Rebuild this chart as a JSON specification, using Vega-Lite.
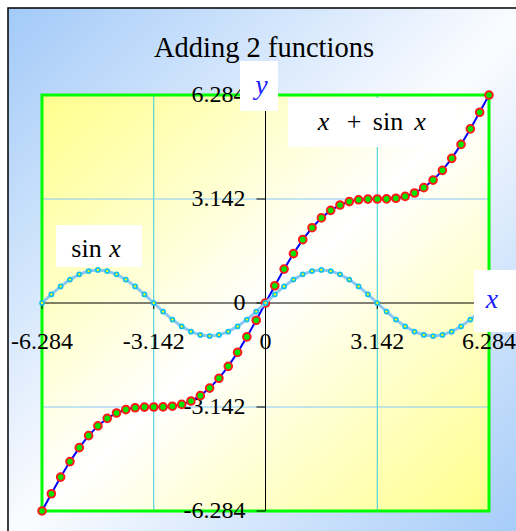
{
  "$schema": "https://vega.github.io/schema/vega-lite/v6.json",
  "width": 447,
  "height": 416,
  "autosize": {"type": "none"},
  "padding": {"left": 42, "top": 95, "right": 27, "bottom": 20},
  "background": "#ffffff",
  "config": {"view": {"stroke": null}, "text": {"font": "Liberation Serif", "color": "#000000"}},
  "datasets": {
    "curve": [
      {"x": -6.2832, "sin": 0, "sum": -6.2832},
      {"x": -6.0214, "sin": 0.2588, "sum": -5.7626},
      {"x": -5.7596, "sin": 0.5, "sum": -5.2596},
      {"x": -5.4978, "sin": 0.7071, "sum": -4.7907},
      {"x": -5.236, "sin": 0.866, "sum": -4.37},
      {"x": -4.9742, "sin": 0.9659, "sum": -4.0083},
      {"x": -4.7124, "sin": 1, "sum": -3.7124},
      {"x": -4.4506, "sin": 0.9659, "sum": -3.4847},
      {"x": -4.1888, "sin": 0.866, "sum": -3.3228},
      {"x": -3.927, "sin": 0.7071, "sum": -3.2199},
      {"x": -3.6652, "sin": 0.5, "sum": -3.1652},
      {"x": -3.4034, "sin": 0.2588, "sum": -3.1446},
      {"x": -3.1416, "sin": 0, "sum": -3.1416},
      {"x": -2.8798, "sin": -0.2588, "sum": -3.1386},
      {"x": -2.618, "sin": -0.5, "sum": -3.118},
      {"x": -2.3562, "sin": -0.7071, "sum": -3.0633},
      {"x": -2.0944, "sin": -0.866, "sum": -2.9604},
      {"x": -1.8326, "sin": -0.9659, "sum": -2.7985},
      {"x": -1.5708, "sin": -1, "sum": -2.5708},
      {"x": -1.309, "sin": -0.9659, "sum": -2.2749},
      {"x": -1.0472, "sin": -0.866, "sum": -1.9132},
      {"x": -0.7854, "sin": -0.7071, "sum": -1.4925},
      {"x": -0.5236, "sin": -0.5, "sum": -1.0236},
      {"x": -0.2618, "sin": -0.2588, "sum": -0.5206},
      {"x": 0, "sin": 0, "sum": 0},
      {"x": 0.2618, "sin": 0.2588, "sum": 0.5206},
      {"x": 0.5236, "sin": 0.5, "sum": 1.0236},
      {"x": 0.7854, "sin": 0.7071, "sum": 1.4925},
      {"x": 1.0472, "sin": 0.866, "sum": 1.9132},
      {"x": 1.309, "sin": 0.9659, "sum": 2.2749},
      {"x": 1.5708, "sin": 1, "sum": 2.5708},
      {"x": 1.8326, "sin": 0.9659, "sum": 2.7985},
      {"x": 2.0944, "sin": 0.866, "sum": 2.9604},
      {"x": 2.3562, "sin": 0.7071, "sum": 3.0633},
      {"x": 2.618, "sin": 0.5, "sum": 3.118},
      {"x": 2.8798, "sin": 0.2588, "sum": 3.1386},
      {"x": 3.1416, "sin": 0, "sum": 3.1416},
      {"x": 3.4034, "sin": -0.2588, "sum": 3.1446},
      {"x": 3.6652, "sin": -0.5, "sum": 3.1652},
      {"x": 3.927, "sin": -0.7071, "sum": 3.2199},
      {"x": 4.1888, "sin": -0.866, "sum": 3.3228},
      {"x": 4.4506, "sin": -0.9659, "sum": 3.4847},
      {"x": 4.7124, "sin": -1, "sum": 3.7124},
      {"x": 4.9742, "sin": -0.9659, "sum": 4.0083},
      {"x": 5.236, "sin": -0.866, "sum": 4.37},
      {"x": 5.4978, "sin": -0.7071, "sum": 4.7907},
      {"x": 5.7596, "sin": -0.5, "sum": 5.2596},
      {"x": 6.0214, "sin": -0.2588, "sum": 5.7626},
      {"x": 6.2832, "sin": 0, "sum": 6.2832}
    ],
    "grid": [{"v": -3.142}, {"v": 3.142}],
    "ticks": [
      {"v": -6.284, "label": "-6.284"},
      {"v": -3.142, "label": "-3.142"},
      {"v": 0, "label": "0"},
      {"v": 3.142, "label": "3.142"},
      {"v": 6.284, "label": "6.284"}
    ],
    "one": [{}]
  },
  "layer": [
    {
      "data": {"name": "one"},
      "mark": {"type": "rect", "stroke": "#000000", "strokeWidth": 1.5,
        "fill": {"gradient": "linear", "x1": 0, "y1": 0, "x2": 1, "y2": 1,
          "stops": [{"offset": 0, "color": "#a2caf8"}, {"offset": 0.5, "color": "#fbfcff"}, {"offset": 1, "color": "#a2caf8"}]}},
      "encoding": {
        "x": {"datum": -7.24, "type": "quantitative", "scale": {"domain": [-6.284, 6.284], "nice": false, "zero": false}, "axis": null},
        "x2": {"datum": 7.4},
        "y": {"datum": 8.912, "type": "quantitative", "scale": {"domain": [-6.284, 6.284], "nice": false, "zero": false}, "axis": null},
        "y2": {"datum": -7.2}
      }
    },
    {
      "data": {"name": "one"},
      "mark": {"type": "rect",
        "fill": {"gradient": "linear", "x1": 0, "y1": 0, "x2": 1, "y2": 1,
          "stops": [{"offset": 0, "color": "#ffff8c"}, {"offset": 0.5, "color": "#ffffff"}, {"offset": 1, "color": "#ffff8c"}]}},
      "encoding": {
        "x": {"datum": -6.284, "type": "quantitative", "scale": {"domain": [-6.284, 6.284], "nice": false, "zero": false}, "axis": null},
        "x2": {"datum": 6.284},
        "y": {"datum": 6.284, "type": "quantitative", "scale": {"domain": [-6.284, 6.284], "nice": false, "zero": false}, "axis": null},
        "y2": {"datum": -6.284}
      }
    },
    {
      "data": {"name": "grid"},
      "mark": {"type": "rule", "color": "#33ccdd", "strokeWidth": 1},
      "encoding": {
        "x": {"field": "v", "type": "quantitative", "scale": {"domain": [-6.284, 6.284], "nice": false, "zero": false}, "axis": null},
        "y": {"datum": -6.284, "type": "quantitative", "scale": {"domain": [-6.284, 6.284], "nice": false, "zero": false}, "axis": null},
        "y2": {"datum": 6.284}
      }
    },
    {
      "data": {"name": "grid"},
      "mark": {"type": "rule", "color": "#86c8f6", "strokeWidth": 1},
      "encoding": {
        "y": {"field": "v", "type": "quantitative", "scale": {"domain": [-6.284, 6.284], "nice": false, "zero": false}, "axis": null},
        "x": {"datum": -6.284, "type": "quantitative", "scale": {"domain": [-6.284, 6.284], "nice": false, "zero": false}, "axis": null},
        "x2": {"datum": 6.284}
      }
    },
    {
      "data": {"name": "one"},
      "mark": {"type": "rect", "filled": false, "stroke": "#00ff00", "strokeWidth": 3},
      "encoding": {
        "x": {"datum": -6.284, "type": "quantitative", "scale": {"domain": [-6.284, 6.284], "nice": false, "zero": false}, "axis": null},
        "x2": {"datum": 6.284},
        "y": {"datum": 6.284, "type": "quantitative", "scale": {"domain": [-6.284, 6.284], "nice": false, "zero": false}, "axis": null},
        "y2": {"datum": -6.284}
      }
    },
    {
      "data": {"name": "one"},
      "mark": {"type": "rule", "color": "#000000", "strokeWidth": 1},
      "encoding": {
        "x": {"datum": 0, "type": "quantitative", "scale": {"domain": [-6.284, 6.284], "nice": false, "zero": false}, "axis": null},
        "y": {"datum": -6.284, "type": "quantitative", "scale": {"domain": [-6.284, 6.284], "nice": false, "zero": false}, "axis": null},
        "y2": {"datum": 6.284}
      }
    },
    {
      "data": {"name": "one"},
      "mark": {"type": "rule", "color": "#000000", "strokeWidth": 1},
      "encoding": {
        "y": {"datum": 0, "type": "quantitative", "scale": {"domain": [-6.284, 6.284], "nice": false, "zero": false}, "axis": null},
        "x": {"datum": -6.284, "type": "quantitative", "scale": {"domain": [-6.284, 6.284], "nice": false, "zero": false}, "axis": null},
        "x2": {"datum": 6.284}
      }
    },
    {
      "data": {"name": "ticks"},
      "mark": {"type": "tick", "orient": "vertical", "size": 6, "thickness": 1, "color": "#000000", "yOffset": 3, "opacity": 1},
      "encoding": {
        "x": {"field": "v", "type": "quantitative", "scale": {"domain": [-6.284, 6.284], "nice": false, "zero": false}, "axis": null},
        "y": {"datum": 0, "type": "quantitative", "scale": {"domain": [-6.284, 6.284], "nice": false, "zero": false}, "axis": null}
      }
    },
    {
      "data": {"name": "ticks"},
      "mark": {"type": "tick", "orient": "horizontal", "size": 9, "thickness": 1, "color": "#000000", "xOffset": -4.5, "opacity": 1},
      "encoding": {
        "y": {"field": "v", "type": "quantitative", "scale": {"domain": [-6.284, 6.284], "nice": false, "zero": false}, "axis": null},
        "x": {"datum": 0, "type": "quantitative", "scale": {"domain": [-6.284, 6.284], "nice": false, "zero": false}, "axis": null}
      }
    },
    {
      "data": {"name": "ticks"},
      "mark": {"type": "text", "fontSize": 24, "align": "center", "baseline": "alphabetic", "dy": 46},
      "encoding": {
        "x": {"field": "v", "type": "quantitative", "scale": {"domain": [-6.284, 6.284], "nice": false, "zero": false}, "axis": null},
        "y": {"datum": 0, "type": "quantitative", "scale": {"domain": [-6.284, 6.284], "nice": false, "zero": false}, "axis": null},
        "text": {"field": "label"}
      }
    },
    {
      "data": {"name": "ticks"},
      "mark": {"type": "text", "fontSize": 24, "align": "right", "baseline": "middle", "dx": -20},
      "encoding": {
        "y": {"field": "v", "type": "quantitative", "scale": {"domain": [-6.284, 6.284], "nice": false, "zero": false}, "axis": null},
        "x": {"datum": 0, "type": "quantitative", "scale": {"domain": [-6.284, 6.284], "nice": false, "zero": false}, "axis": null},
        "text": {"field": "label"}
      }
    },
    {
      "data": {"name": "curve"},
      "mark": {"type": "line", "color": "#0000ff", "strokeWidth": 2},
      "encoding": {
        "x": {"field": "x", "type": "quantitative", "scale": {"domain": [-6.284, 6.284], "nice": false, "zero": false}, "axis": null},
        "y": {"field": "sum", "type": "quantitative", "scale": {"domain": [-6.284, 6.284], "nice": false, "zero": false}, "axis": null}
      }
    },
    {
      "data": {"name": "curve"},
      "mark": {"type": "point", "shape": "circle", "filled": true, "size": 58, "fill": "#00e600", "stroke": "#ff1a1a", "strokeWidth": 2, "opacity": 1},
      "encoding": {
        "x": {"field": "x", "type": "quantitative", "scale": {"domain": [-6.284, 6.284], "nice": false, "zero": false}, "axis": null},
        "y": {"field": "sum", "type": "quantitative", "scale": {"domain": [-6.284, 6.284], "nice": false, "zero": false}, "axis": null}
      }
    },
    {
      "data": {"name": "curve"},
      "mark": {"type": "line", "color": "#8cc8f4", "strokeWidth": 3},
      "encoding": {
        "x": {"field": "x", "type": "quantitative", "scale": {"domain": [-6.284, 6.284], "nice": false, "zero": false}, "axis": null},
        "y": {"field": "sin", "type": "quantitative", "scale": {"domain": [-6.284, 6.284], "nice": false, "zero": false}, "axis": null}
      }
    },
    {
      "data": {"name": "curve"},
      "mark": {"type": "point", "shape": "circle", "filled": true, "size": 16, "fill": "#ffff00", "stroke": "#10bff0", "strokeWidth": 1.7, "opacity": 1},
      "encoding": {
        "x": {"field": "x", "type": "quantitative", "scale": {"domain": [-6.284, 6.284], "nice": false, "zero": false}, "axis": null},
        "y": {"field": "sin", "type": "quantitative", "scale": {"domain": [-6.284, 6.284], "nice": false, "zero": false}, "axis": null}
      }
    },
    {
      "data": {"name": "one"},
      "mark": {"type": "rect", "fill": "#ffffff"},
      "encoding": {
        "x": {"datum": -0.717, "type": "quantitative", "scale": {"domain": [-6.284, 6.284], "nice": false, "zero": false}, "axis": null},
        "x2": {"datum": 0.351},
        "y": {"datum": 7.311, "type": "quantitative", "scale": {"domain": [-6.284, 6.284], "nice": false, "zero": false}, "axis": null},
        "y2": {"datum": 5.801}
      }
    },
    {
      "data": {"name": "one"},
      "mark": {"type": "rect", "fill": "#ffffff"},
      "encoding": {
        "x": {"datum": 0.633, "type": "quantitative", "scale": {"domain": [-6.284, 6.284], "nice": false, "zero": false}, "axis": null},
        "x2": {"datum": 5.328},
        "y": {"datum": 6.193, "type": "quantitative", "scale": {"domain": [-6.284, 6.284], "nice": false, "zero": false}, "axis": null},
        "y2": {"datum": 4.713}
      }
    },
    {
      "data": {"name": "one"},
      "mark": {"type": "rect", "fill": "#ffffff"},
      "encoding": {
        "x": {"datum": -5.89, "type": "quantitative", "scale": {"domain": [-6.284, 6.284], "nice": false, "zero": false}, "axis": null},
        "x2": {"datum": -3.472},
        "y": {"datum": 2.356, "type": "quantitative", "scale": {"domain": [-6.284, 6.284], "nice": false, "zero": false}, "axis": null},
        "y2": {"datum": 1.088}
      }
    },
    {
      "data": {"name": "one"},
      "mark": {"type": "rect", "fill": "#ffffff"},
      "encoding": {
        "x": {"datum": 5.862, "type": "quantitative", "scale": {"domain": [-6.284, 6.284], "nice": false, "zero": false}, "axis": null},
        "x2": {"datum": 7.3},
        "y": {"datum": 0.997, "type": "quantitative", "scale": {"domain": [-6.284, 6.284], "nice": false, "zero": false}, "axis": null},
        "y2": {"datum": -0.876}
      }
    },
    {
      "data": {"name": "one"},
      "mark": {"type": "text", "text": "Adding 2 functions", "fontSize": 28.5, "align": "center", "baseline": "alphabetic"},
      "encoding": {
        "x": {"datum": -0.042, "type": "quantitative", "scale": {"domain": [-6.284, 6.284], "nice": false, "zero": false}, "axis": null},
        "y": {"datum": 7.432, "type": "quantitative", "scale": {"domain": [-6.284, 6.284], "nice": false, "zero": false}, "axis": null}
      }
    },
    {
      "data": {"name": "one"},
      "mark": {"type": "text", "text": "y", "fontSize": 28, "fontStyle": "italic", "color": "#2020ff", "align": "center", "baseline": "alphabetic"},
      "encoding": {
        "x": {"datum": -0.112, "type": "quantitative", "scale": {"domain": [-6.284, 6.284], "nice": false, "zero": false}, "axis": null},
        "y": {"datum": 6.314, "type": "quantitative", "scale": {"domain": [-6.284, 6.284], "nice": false, "zero": false}, "axis": null}
      }
    },
    {
      "data": {"name": "one"},
      "mark": {"type": "text", "text": "x", "fontSize": 28, "fontStyle": "italic", "color": "#2020ff", "align": "center", "baseline": "alphabetic"},
      "encoding": {
        "x": {"datum": 6.368, "type": "quantitative", "scale": {"domain": [-6.284, 6.284], "nice": false, "zero": false}, "axis": null},
        "y": {"datum": -0.151, "type": "quantitative", "scale": {"domain": [-6.284, 6.284], "nice": false, "zero": false}, "axis": null}
      }
    },
    {
      "data": {"name": "one"},
      "mark": {"type": "text", "text": "x", "fontSize": 26, "fontStyle": "italic", "align": "center", "baseline": "alphabetic"},
      "encoding": {
        "x": {"datum": 1.631, "type": "quantitative", "scale": {"domain": [-6.284, 6.284], "nice": false, "zero": false}, "axis": null},
        "y": {"datum": 5.227, "type": "quantitative", "scale": {"domain": [-6.284, 6.284], "nice": false, "zero": false}, "axis": null}
      }
    },
    {
      "data": {"name": "one"},
      "mark": {"type": "text", "text": "+", "fontSize": 26, "align": "center", "baseline": "alphabetic"},
      "encoding": {
        "x": {"datum": 2.488, "type": "quantitative", "scale": {"domain": [-6.284, 6.284], "nice": false, "zero": false}, "axis": null},
        "y": {"datum": 5.227, "type": "quantitative", "scale": {"domain": [-6.284, 6.284], "nice": false, "zero": false}, "axis": null}
      }
    },
    {
      "data": {"name": "one"},
      "mark": {"type": "text", "text": "sin", "fontSize": 26, "align": "center", "baseline": "alphabetic"},
      "encoding": {
        "x": {"datum": 3.444, "type": "quantitative", "scale": {"domain": [-6.284, 6.284], "nice": false, "zero": false}, "axis": null},
        "y": {"datum": 5.227, "type": "quantitative", "scale": {"domain": [-6.284, 6.284], "nice": false, "zero": false}, "axis": null}
      }
    },
    {
      "data": {"name": "one"},
      "mark": {"type": "text", "text": "x", "fontSize": 26, "fontStyle": "italic", "align": "center", "baseline": "alphabetic"},
      "encoding": {
        "x": {"datum": 4.344, "type": "quantitative", "scale": {"domain": [-6.284, 6.284], "nice": false, "zero": false}, "axis": null},
        "y": {"datum": 5.227, "type": "quantitative", "scale": {"domain": [-6.284, 6.284], "nice": false, "zero": false}, "axis": null}
      }
    },
    {
      "data": {"name": "one"},
      "mark": {"type": "text", "text": "sin", "fontSize": 26, "align": "center", "baseline": "alphabetic"},
      "encoding": {
        "x": {"datum": -5.033, "type": "quantitative", "scale": {"domain": [-6.284, 6.284], "nice": false, "zero": false}, "axis": null},
        "y": {"datum": 1.39, "type": "quantitative", "scale": {"domain": [-6.284, 6.284], "nice": false, "zero": false}, "axis": null}
      }
    },
    {
      "data": {"name": "one"},
      "mark": {"type": "text", "text": "x", "fontSize": 26, "fontStyle": "italic", "align": "center", "baseline": "alphabetic"},
      "encoding": {
        "x": {"datum": -4.232, "type": "quantitative", "scale": {"domain": [-6.284, 6.284], "nice": false, "zero": false}, "axis": null},
        "y": {"datum": 1.39, "type": "quantitative", "scale": {"domain": [-6.284, 6.284], "nice": false, "zero": false}, "axis": null}
      }
    }
  ]
}
